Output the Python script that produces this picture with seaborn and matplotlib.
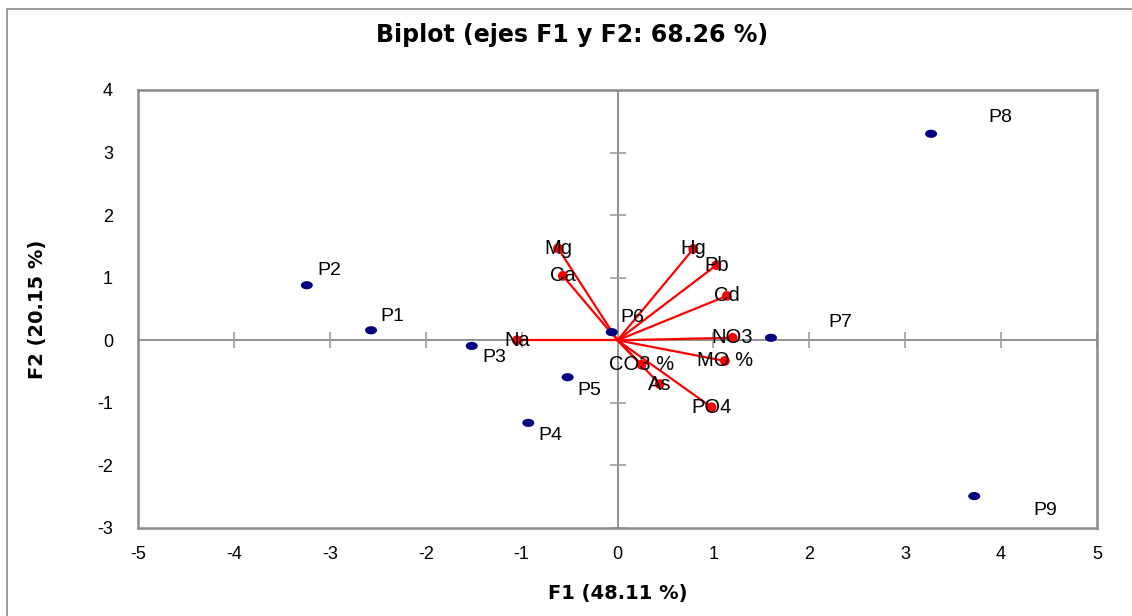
import numpy as np
import pandas as pd
import matplotlib
matplotlib.use("Agg")
import matplotlib.pyplot as plt
from matplotlib.path import Path
from matplotlib.patches import Rectangle
import seaborn as sns

# observations (F1, F2)
obs_names = ["P1", "P2", "P3", "P4", "P5", "P6", "P7", "P8", "P9"]
obs_f1 = [-2.57, -3.24, -1.52, -0.93, -0.52, -0.06, 1.60, 3.27, 3.72]
obs_f2 = [0.16, 0.88, -0.09, -1.32, -0.59, 0.13, 0.04, 3.30, -2.49]

# variables (loadings drawn as vectors)
var_names = ["Mg", "Ca", "Hg", "Pb", "Cd", "NO3", "MO %", "CO3 %", "As", "PO4", "Na"]
var_f1 = [-0.62, -0.57, 0.79, 1.03, 1.14, 1.20, 1.12, 0.25, 0.44, 0.98, -1.05]
var_f2 = [1.47, 1.03, 1.46, 1.20, 0.71, 0.04, -0.33, -0.39, -0.70, -1.07, 0.00]

xticks = [-5, -4, -3, -2, -1, 0, 1, 2, 3, 4, 5]
yticks = [-3, -2, -1, 0, 1, 2, 3, 4]

# label offsets in pixels for the observations
obs_offsets = {"P1": (21, 14), "P2": (23, 15), "P3": (23, -12), "P4": (22, -13),
               "P5": (22, -13), "P6": (21, 15), "P7": (69, 15), "P8": (69, 16),
               "P9": (71, -14)}

sns.set_style("white")
plt.rcParams["font.family"] = ["Liberation Sans", "DejaVu Sans"]
plt.rcParams["axes.unicode_minus"] = False
plt.rcParams["text.color"] = "black"
plt.rcParams["axes.labelcolor"] = "black"
plt.rcParams["xtick.color"] = "black"
plt.rcParams["ytick.color"] = "black"

obs = pd.DataFrame({"F1": obs_f1, "F2": obs_f2, "name": obs_names})
var = pd.DataFrame({"F1": var_f1, "F2": var_f2, "name": var_names})

fig = plt.figure(figsize=(11.32, 6.16), dpi=100)
ax = fig.add_axes([138 / 1132, 1 - 528 / 616, 959 / 1132, 438 / 616])

# outer frame of the chart area
fig.patches.append(Rectangle((7 / 1132, -0.2), 2, 1.2 - 9 / 616, transform=fig.transFigure,
                             fill=False, edgecolor="#8c8c8c", lw=1.2))

grey = "#8a8a8a"
ax.axhline(0, color=grey, lw=1.3, zorder=1)
ax.axvline(0, color=grey, lw=1.3, zorder=1)
# tick marks sitting on the zero lines
ax.plot(xticks, np.zeros(len(xticks)), ls="none", marker="|", ms=11, mew=1.2, color="#a0a0a0", zorder=1)
ax.plot(np.zeros(len(yticks)), yticks, ls="none", marker="_", ms=11, mew=1.2, color="#a0a0a0", zorder=1)

for x, y in zip(var_f1, var_f2):
    ax.plot([0, x], [0, y], color="red", lw=1.6, zorder=2)

uc = Path.unit_circle()
ellipse = Path(uc.vertices * np.array([1.0, 0.68]), uc.codes)
sns.scatterplot(data=obs, x="F1", y="F2", marker=ellipse, s=75, color="#000080",
                edgecolor="none", zorder=3, ax=ax)
sns.scatterplot(data=var, x="F1", y="F2", s=50, color="#ff0000", edgecolor="none",
                zorder=3, ax=ax)

for n, x, y in zip(obs_names, obs_f1, obs_f2):
    ax.annotate(n, (x, y), xytext=obs_offsets[n], textcoords="offset pixels",
                ha="center", va="center", fontsize=14, zorder=4)
for n, x, y in zip(var_names, var_f1, var_f2):
    ax.text(x, y, n, ha="center", va="center", fontsize=14.5, zorder=4)

ax.set_xlim(-5, 5)
ax.set_ylim(-3, 4)
ax.set_xticks(xticks)
ax.set_yticks(yticks)
ax.tick_params(length=0, labelsize=13)
ax.tick_params(axis="x", pad=13)
ax.tick_params(axis="y", pad=18)
for s in ax.spines.values():
    s.set_color(grey)
    s.set_linewidth(1.8)

ax.set_xlabel("F1 (48.11 %)", fontsize=14, fontweight="bold", family="DejaVu Sans", labelpad=15)
ax.set_ylabel("F2 (20.15 %)", fontsize=14, fontweight="bold", family="DejaVu Sans", labelpad=36)
fig.text(0.505, 0.943, "Biplot (ejes F1 y F2: 68.26 %)", ha="center", va="center",
         fontsize=17, fontweight="bold", family="DejaVu Sans")

fig.savefig("out.png", dpi=100)
